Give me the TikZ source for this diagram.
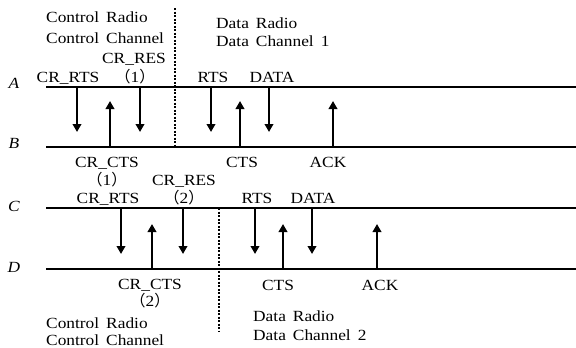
\documentclass[tikz,border=0pt]{standalone}
\usepackage{fontspec}
\setmainfont{Liberation Serif}[FakeStretch=1.12]
\newfontfamily\cjkfont{Noto Sans CJK SC}
\usetikzlibrary{arrows.meta}
\newcommand{\fwp}[1]{{\cjkfont （}#1{\cjkfont ）}}
\newcommand{\wsp}{\hspace{0.45em}}
\begin{document}
\begin{tikzpicture}[x=1pt,y=-1pt,
  txt/.style={inner sep=0pt, anchor=base, font=\fontsize{15.5}{20}\selectfont, text=black},
  ltxt/.style={txt, anchor=base west},
  axis/.style={txt, font=\fontsize{15.5}{20}\selectfont\itshape},
  chan/.style={line width=1.3pt},
  sep/.style={line width=1.2pt, dash pattern=on 2pt off 1.5pt},
  msg/.style={line width=2pt, -{Triangle[length=8pt,width=8.5pt]}}]
\useasboundingbox (0,0) rectangle (576,348);

% channel lines
\coordinate (A0) at (46,87);  \coordinate (A1) at (576,87);
\coordinate (B0) at (46,147); \coordinate (B1) at (576,147);
\coordinate (C0) at (46,208); \coordinate (C1) at (576,208);
\coordinate (D0) at (46,269); \coordinate (D1) at (576,269);
\draw[chan] (A0) -- (A1);
\draw[chan] (B0) -- (B1);
\draw[chan] (C0) -- (C1);
\draw[chan] (D0) -- (D1);

\node[axis] (lA) at (14,88) {A};
\node[axis] (lB) at (14,148) {B};
\node[axis] (lC) at (14,211) {C};
\node[axis] (lD) at (14,272) {D};

% separators
\coordinate (s1t) at (175,8);   \coordinate (s1b) at (175,147);
\coordinate (s2t) at (219,208); \coordinate (s2b) at (219,332);
\draw[sep] (s1t) -- (s1b);
\draw[sep] (s2t) -- (s2b);

% top messages
\coordinate (m1a) at (77,87);  \coordinate (m1b) at (77,132);
\coordinate (m2a) at (110,147); \coordinate (m2b) at (110,101);
\coordinate (m3a) at (140,87);  \coordinate (m3b) at (140,132);
\coordinate (m4a) at (211,87);  \coordinate (m4b) at (211,132);
\coordinate (m5a) at (240,147); \coordinate (m5b) at (240,101);
\coordinate (m6a) at (269,87);  \coordinate (m6b) at (269,132);
\coordinate (m7a) at (333,147); \coordinate (m7b) at (333,101);
\foreach \m in {m1,m2,m3,m4,m5,m6,m7} \draw[msg] (\m a) -- (\m b);

% bottom messages
\coordinate (n1a) at (121,208); \coordinate (n1b) at (121,254);
\coordinate (n2a) at (152,269); \coordinate (n2b) at (152,224);
\coordinate (n3a) at (183,208); \coordinate (n3b) at (183,254);
\coordinate (n4a) at (255,208); \coordinate (n4b) at (255,254);
\coordinate (n5a) at (283,269); \coordinate (n5b) at (283,224);
\coordinate (n6a) at (312,208); \coordinate (n6b) at (312,254);
\coordinate (n7a) at (377,269); \coordinate (n7b) at (377,224);
\foreach \m in {n1,n2,n3,n4,n5,n6,n7} \draw[msg] (\m a) -- (\m b);

% top texts
\node[ltxt] (cr1) at (46,23) {Control\wsp Radio};
\node[ltxt] (cc1) at (46,43) {Control\wsp Channel};
\node[ltxt] (dr1) at (216,28) {Data\wsp Radio};
\node[ltxt] (dc1) at (216,46) {Data\wsp Channel\wsp 1};
\node[txt] (tres1) at (134,63) {CR\_RES};
\node[txt] (tres1n) at (135,82) {\fwp{1}};
\node[txt] (trts1) at (68,82) {CR\_RTS};
\node[txt] (trts) at (213,82) {RTS};
\node[txt] (tdata) at (272,82) {DATA};
\node[txt] (tcts1) at (107,167) {CR\_CTS};
\node[txt] (tcts1n) at (107,185) {\fwp{1}};
\node[txt] (tcts) at (242,167) {CTS};
\node[txt] (tack) at (328,167) {ACK};

% bottom texts
\node[txt] (brts2) at (108,203) {CR\_RTS};
\node[txt] (bres2) at (184,185) {CR\_RES};
\node[txt] (bres2n) at (184,203) {\fwp{2}};
\node[txt] (brts) at (257,203) {RTS};
\node[txt] (bdata) at (313,203) {DATA};
\node[txt] (bcts2) at (150,289) {CR\_CTS};
\node[txt] (bcts2n) at (150,306) {\fwp{2}};
\node[txt] (bcts) at (278,290) {CTS};
\node[txt] (back) at (380,290) {ACK};
\node[ltxt] (cr2) at (46,328) {Control\wsp Radio};
\node[ltxt] (cc2) at (46,345) {Control\wsp Channel};
\node[ltxt] (dr2) at (253,321) {Data\wsp Radio};
\node[ltxt] (dc2) at (253,340) {Data\wsp Channel\wsp 2};
\end{tikzpicture}
\end{document}
